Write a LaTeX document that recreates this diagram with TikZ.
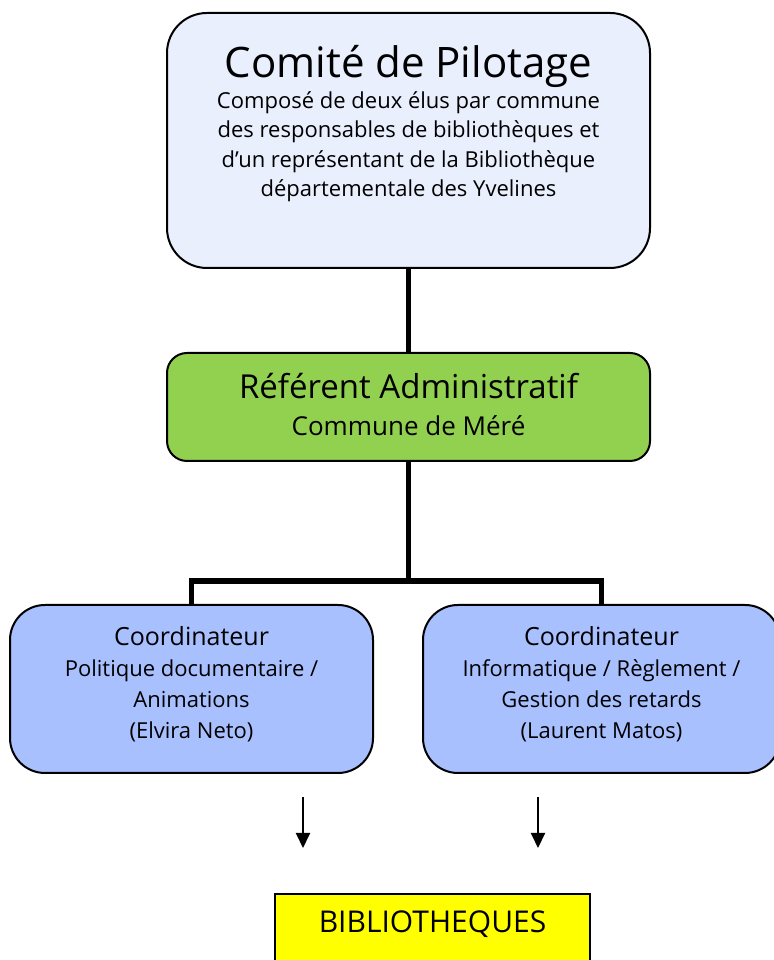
\documentclass[tikz,border=0pt]{standalone}
\usepackage{fontspec}
\setmainfont{Open Sans}
\usetikzlibrary{arrows.meta,calc}

\definecolor{pilotfill}{HTML}{E9EFFD}
\definecolor{reffill}{HTML}{92D050}
\definecolor{coordfill}{HTML}{A9C0FF}
\definecolor{bibfill}{HTML}{FFFF00}

\tikzset{
  box/.style={draw=black, line width=2pt, inner sep=0pt},
  pilotbox/.style={box, fill=pilotfill, rounded corners=40pt,
    minimum width=483pt, minimum height=255pt},
  refbox/.style={box, fill=reffill, rounded corners=20pt,
    minimum width=483pt, minimum height=108pt},
  coordbox/.style={box, fill=coordfill, rounded corners=35pt,
    minimum height=168pt},
  bibbox/.style={box, fill=bibfill, minimum width=315pt, minimum height=100pt},
  boxtext/.style={align=center, inner sep=0pt},
  link/.style={line width=5.5pt},
  downarrow/.style={line width=2pt, -{Triangle[width=14pt,length=15pt]}}
}

\begin{document}
\begin{tikzpicture}[x=1pt,y=1pt]
    \useasboundingbox (0,0) rectangle (773,960);

    % boxes
    \node[pilotbox] (pilot) at (408.5,819.5) {};
    \node[refbox] (ref) at (408.5,553) {};
    \node[coordbox, minimum width=363pt] (coordA) at (191.5,271) {};
    \node[coordbox, minimum width=357pt] (coordB) at (601.5,271) {};
    \node[bibbox, anchor=north] (biblio) at (432.5,67) {};

    % texts
    \node[boxtext, font=\fontsize{22}{29.5}\selectfont] (pilottxt) at (408.5,836) {%
      {\fontsize{42}{46}\selectfont Comité de Pilotage}\\[1pt]
      Composé de deux élus par commune\\
      des responsables de bibliothèques et\\
      d’un représentant de la Bibliothèque\\
      départementale des Yvelines};
    \node[boxtext, font=\fontsize{26}{30}\selectfont] (reftxt) at (408.5,556) {%
      {\fontsize{33}{36}\selectfont Référent Administratif}\\[7pt]
      Commune de Méré};
    \node[boxtext, font=\fontsize{22}{31}\selectfont] (coordAtxt) at (191.5,276) {%
      {\fontsize{25}{31}\selectfont Coordinateur}\\
      Politique documentaire /\\
      Animations\\
      (Elvira Neto)};
    \node[boxtext, font=\fontsize{22}{31}\selectfont] (coordBtxt) at (601.5,276) {%
      {\fontsize{25}{31}\selectfont Coordinateur}\\
      Informatique / Règlement /\\
      Gestion des retards\\
      (Laurent Matos)};
    \node[boxtext, font=\fontsize{30}{34}\selectfont] (bibtxt) at (432.5,36) {BIBLIOTHEQUES};

    % connectors
    \coordinate (bar) at (408.5,379);
    \draw[link] (pilot) -- (ref);
    \draw[link] (ref) -- (bar);
    \draw[link] (coordA) |- (bar) -| (coordB);

    \coordinate (arrAtop) at (303,163);
    \coordinate (arrAend) at (303,112);
    \coordinate (arrBtop) at (538,163);
    \coordinate (arrBend) at (538,112);
    \draw[downarrow] (arrAtop) -- (arrAend);
    \draw[downarrow] (arrBtop) -- (arrBend);
\end{tikzpicture}
\end{document}
